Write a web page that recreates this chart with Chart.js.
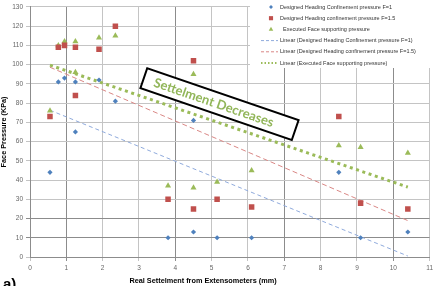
<!DOCTYPE html>
<html>
<head>
<meta charset="utf-8">
<script src="https://cdn.jsdelivr.net/npm/chart.js@4.4.1/dist/chart.umd.min.js"></script>
<style>
  html, body { margin: 0; padding: 0; background: #fff; }
  #wrap { width: 436px; height: 286px; }
</style>
</head>
<body>
<div id="wrap"><canvas id="chart" width="436" height="286"></canvas></div>
<script>
// real settlement (mm) of each reading, shared by the three series
const settlement = [0.55, 0.78, 0.95, 1.25, 1.25, 1.9, 2.35, 3.8, 4.5, 4.5, 5.15, 6.1, 8.5, 9.1, 10.4];
const pressureF1 = [44, 91, 93, 91, 65, 92, 81, 10, 13, 71, 10, 10, 44, 10, 13];
const pressureF15 = [73, 109, 110, 109, 84, 108, 120, 30, 25, 102, 30, 26, 73, 28, 25];
const executedPressure = [76, 110, 112, 112, 96, 114, 115, 37, 36, 95, 39, 45, 58, 57, 54];

const seriesLabels = [
  'Designed Heading Confinement pressure F=1',
  'Designed Heading confinement pressure F=1.5',
  'Executed Face supporting pressure'
];
const trendLabels = [
  'Linear (Designed Heading Confinement pressure F=1)',
  'Linear (Designed Heading confinement pressure F=1.5)',
  'Linear (Executed Face supporting pressure)'
];
const xTitle = 'Real Settelment from Extensometers (mm)';
const yTitle = 'Face Pressure (KPa)';
const noteText = 'Settelment Decreases';

const BLUE = '#4f81bd', RED = '#c0504d', GREEN = '#9bbb59';

function points(ys) {
  return settlement.map((x, i) => ({ x: x, y: ys[i] }));
}

// least squares line, like the Excel "Linear" trendline
function trend(ys) {
  const n = settlement.length;
  const mx = settlement.reduce((a, b) => a + b, 0) / n;
  const my = ys.reduce((a, b) => a + b, 0) / n;
  let sxy = 0, sxx = 0;
  settlement.forEach((x, i) => {
    sxy += (x - mx) * (ys[i] - my);
    sxx += (x - mx) * (x - mx);
  });
  const k = sxy / sxx;
  const x0 = Math.min(...settlement), x1 = Math.max(...settlement);
  return [{ x: x0, y: my + k * (x0 - mx) }, { x: x1, y: my + k * (x1 - mx) }];
}

const datasets = [
  { label: seriesLabels[0], data: points(pressureF1), pointStyle: 'rectRot', pointRadius: 2.6,
    backgroundColor: BLUE, borderColor: BLUE, borderWidth: 0 },
  { label: seriesLabels[1], data: points(pressureF15), pointStyle: 'rect', pointRadius: 3.9,
    backgroundColor: RED, borderColor: RED, borderWidth: 0 },
  { label: seriesLabels[2], data: points(executedPressure), pointStyle: 'triangle', pointRadius: 3.5,
    backgroundColor: GREEN, borderColor: GREEN, borderWidth: 0 },
  { label: trendLabels[0], data: trend(pressureF1), showLine: true, pointRadius: 0,
    borderColor: '#8faadc', borderWidth: 1, borderDash: [4, 3] },
  { label: trendLabels[1], data: trend(pressureF15), showLine: true, pointRadius: 0,
    borderColor: '#d98785', borderWidth: 1, borderDash: [5, 3] },
  { label: trendLabels[2], data: trend(executedPressure), showLine: true, pointRadius: 0,
    borderColor: GREEN, borderWidth: 3, borderDash: [3, 3.6] }
];

const overlay = {
  id: 'overlay',
  afterDatasetsDraw(chart) {
    const ctx = chart.ctx;
    // the rotated note box
    ctx.save();
    ctx.translate(219.5, 104.2);
    ctx.rotate(18.9 * Math.PI / 180);
    ctx.fillStyle = '#fff';
    ctx.fillRect(-80, -10.5, 160, 21);
    ctx.strokeStyle = '#000';
    ctx.lineWidth = 2;
    ctx.strokeRect(-80, -10.5, 160, 21);
    ctx.fillStyle = '#92b65a';
    ctx.font = 'bold 13px Lato';
    ctx.textAlign = 'center';
    ctx.textBaseline = 'middle';
    ctx.fillText(noteText, -6, 0.5);
    ctx.restore();
  },
  afterDraw(chart) {
    const ctx = chart.ctx;
    ctx.save();
    // legend inside the plot
    ctx.fillStyle = '#fff';
    ctx.fillRect(250, 1, 180, 67);
    ctx.font = '5.5px "Liberation Sans"';
    ctx.textBaseline = 'middle';
    chart.data.datasets.forEach((ds, i) => {
      const y = 7 + i * 11.2;
      if (ds.showLine) {
        ctx.strokeStyle = ds.borderColor;
        ctx.lineWidth = Math.min(ds.borderWidth, 2);
        ctx.setLineDash(i === 5 ? [1.5, 2] : [3, 2]);
        ctx.beginPath();
        ctx.moveTo(261, y);
        ctx.lineTo(278, y);
        ctx.stroke();
        ctx.setLineDash([]);
      } else {
        ctx.fillStyle = ds.backgroundColor;
        ctx.strokeStyle = ds.borderColor;
        Chart.helpers.drawPoint(ctx, { pointStyle: ds.pointStyle, radius: ds.pointRadius * 0.75, rotation: 0, borderWidth: 0 }, 271, y);
      }
      ctx.fillStyle = '#333';
      ctx.fillText(ds.label, i === 2 ? 283 : 280, y);
    });
    // x axis title
    ctx.fillStyle = '#000';
    ctx.font = 'bold 7.3px "Liberation Sans"';
    ctx.textAlign = 'center';
    ctx.textBaseline = 'middle';
    ctx.fillText(xTitle, 203, 281);
    // panel letter
    ctx.font = 'bold 15px "Liberation Sans"';
    ctx.textAlign = 'left';
    ctx.textBaseline = 'alphabetic';
    ctx.fillText('a)', 3, 289);
    ctx.restore();
  }
};

const tickFont = { family: 'Liberation Sans', size: 6.5 };

new Chart(document.getElementById('chart'), {
  type: 'scatter',
  data: { datasets: datasets },
  options: {
    responsive: false,
    animation: false,
    layout: { padding: { top: 1, right: 5, left: 0, bottom: 0 } },
    plugins: { legend: { display: false }, tooltip: { enabled: false } },
    scales: {
      x: {
        type: 'linear', min: 0, max: 11,
        ticks: { stepSize: 1, font: tickFont, color: '#666', padding: 3 },
        grid: {
          tickLength: 4,
          color: c => [1, 4, 7, 10].includes(c.tick.value) ? '#8c8c8c' : '#c4c4c4'
        },
        border: { color: '#8c8c8c' },
        afterFit: s => { s.height = 29; }
      },
      y: {
        min: 0, max: 130,
        ticks: { stepSize: 10, font: tickFont, color: '#666', padding: 3 },
        grid: {
          tickLength: 4,
          color: c => [10, 20].includes(c.tick.value) ? '#8c8c8c' : '#c4c4c4'
        },
        border: { color: '#8c8c8c' },
        title: { display: true, text: yTitle, color: '#000', padding: 0,
                 font: { family: 'Liberation Sans', size: 7.3, weight: 'bold' } },
        afterFit: s => { s.width = 30; }
      }
    }
  },
  plugins: [overlay]
});
</script>
</body>
</html>
